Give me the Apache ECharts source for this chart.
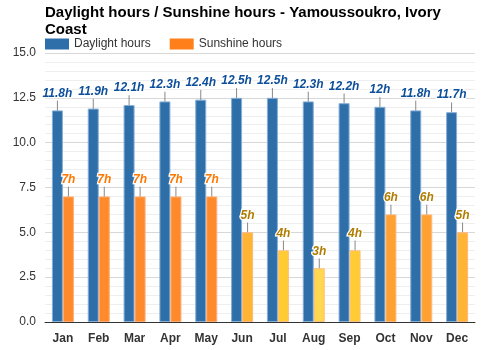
<!DOCTYPE html>
<html>
<head>
<meta charset="utf-8">
<script src="https://cdn.jsdelivr.net/npm/echarts@6/dist/echarts.min.js"></script>
<style>
  html, body { margin: 0; padding: 0; background: #fff; }
  #chart { width: 500px; height: 350px; }
</style>
</head>
<body>
<div id="chart"></div>
<script>
const months = ['Jan', 'Feb', 'Mar', 'Apr', 'May', 'Jun', 'Jul', 'Aug', 'Sep', 'Oct', 'Nov', 'Dec'];
const daylightHours = [11.8, 11.9, 12.1, 12.3, 12.4, 12.5, 12.5, 12.3, 12.2, 12, 11.8, 11.7];
const sunshineHours = [7, 7, 7, 7, 7, 5, 4, 3, 4, 6, 6, 5];

// Sunshine bars get warmer as the hours grow
function sunFill(v) {
  if (v >= 7) return '#ff8a2b';
  if (v >= 6) return '#ffa033';
  if (v >= 5) return '#ffb433';
  if (v >= 4) return '#ffcc33';
  return '#ffd84f';
}
function sunBorder(v) {
  if (v >= 7) return '#ffab70';
  if (v >= 5) return '#ffb878';
  return '#ffbf80';
}
function sunLabel(v) {
  return v >= 7 ? '#ff7700' : '#b07d00';
}

const chart = echarts.init(document.getElementById('chart'), null, { renderer: 'canvas' });

const labelBase = {
  show: true,
  position: 'top',
  distance: 3,
  fontFamily: 'Liberation Sans, Arial, sans-serif',
  fontSize: 12,
  fontWeight: 'bold',
  fontStyle: 'italic',
  textBorderColor: '#fff',
  textBorderWidth: 2.5,
  formatter: p => p.value + 'h'
};

chart.setOption({
  animation: false,
  textStyle: { fontFamily: 'Liberation Sans, Arial, sans-serif' },
  title: {
    text: 'Daylight hours / Sunshine hours - Yamoussoukro, Ivory\nCoast',
    left: 40,
    top: -1,
    textStyle: { fontSize: 15, fontWeight: 'bold', color: '#000', lineHeight: 17 }
  },
  legend: {
    left: 40,
    top: 33,
    itemWidth: 24,
    itemHeight: 11,
    itemGap: 19,
    icon: 'rect',
    textStyle: { fontSize: 12, color: '#333' },
    data: [
      { name: 'Daylight hours', itemStyle: { color: '#2f6fa9', borderWidth: 0 } },
      { name: 'Sunshine hours', itemStyle: { color: '#ff7f1a', borderWidth: 0 } }
    ]
  },
  grid: { left: 45, right: 25, top: 53, bottom: 28, containLabel: false },
  xAxis: {
    type: 'category',
    data: months,
    axisLine: { lineStyle: { color: '#333', width: 1 } },
    axisTick: { show: false },
    axisLabel: { color: '#333', fontSize: 12, fontWeight: 'bold', margin: 11 }
  },
  yAxis: {
    type: 'value',
    min: 0,
    max: 15,
    interval: 2.5,
    axisLine: { show: false },
    axisTick: { show: false },
    axisLabel: { color: '#333', fontSize: 12, margin: 9, formatter: v => v.toFixed(1) },
    splitLine: { lineStyle: { color: '#d8d8d8', width: 1 } },
    minorTick: { show: false, splitNumber: 5 },
    minorSplitLine: { show: true, lineStyle: { color: '#eeeeee', width: 1 } }
  },
  series: [
    {
      name: 'Daylight hours',
      type: 'bar',
      data: daylightHours,
      barWidth: 11,
      barGap: '0%',
      itemStyle: { color: '#2f6fa9', borderColor: '#86aed6', borderWidth: 1 },
      label: Object.assign({}, labelBase, { color: '#0d4f9a' }),
      labelLayout: { dy: -8 },
      labelLine: { show: true, lineStyle: { color: '#888', width: 1 } }
    },
    {
      name: 'Sunshine hours',
      type: 'bar',
      barWidth: 11,
      barGap: '0%',
      data: sunshineHours.map(v => ({
        value: v,
        itemStyle: { color: sunFill(v), borderColor: sunBorder(v), borderWidth: 1 },
        label: { color: sunLabel(v) }
      })),
      label: labelBase,
      labelLayout: { dy: -8 },
      labelLine: { show: true, lineStyle: { color: '#888', width: 1 } }
    }
  ]
});
</script>
</body>
</html>
